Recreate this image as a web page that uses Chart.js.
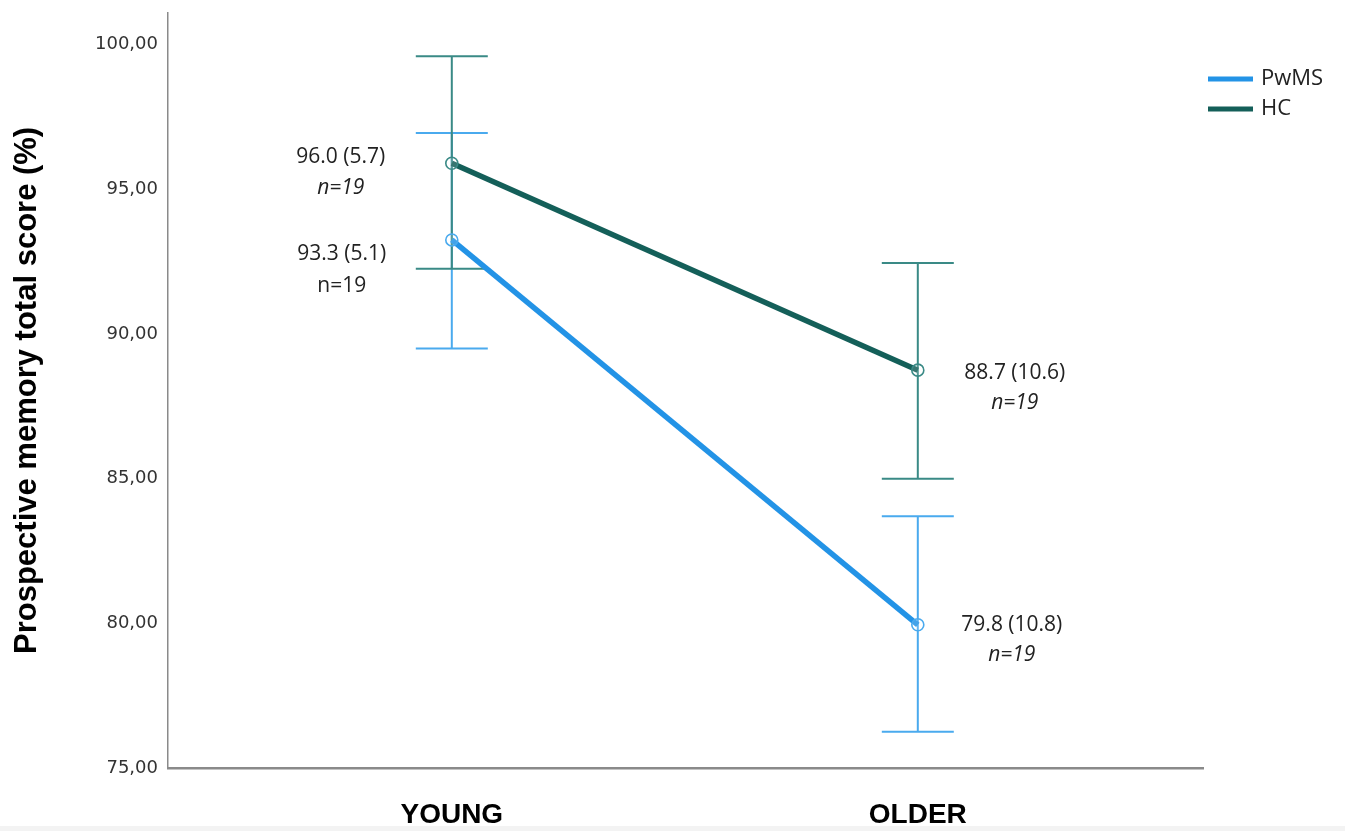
<!DOCTYPE html>
<html><head><meta charset="utf-8">
<script src="https://cdn.jsdelivr.net/npm/chart.js@4"></script>
<style>html,body{margin:0;padding:0;background:#fff;overflow:hidden}#wrap{position:relative;width:1345px;height:831px}#strip{position:absolute;left:0;top:826px;width:1345px;height:5px;background:#f3f3f3}</style>
</head><body><div id="wrap"><canvas id="c" width="1345" height="831"></canvas><div id="strip"></div></div>
<script>
const categories = ['YOUNG', 'OLDER'];
const seriesNames = ['PwMS', 'HC'];
const pwmsMean = [93.25, 79.95];
const pwmsLow = [89.5, 76.25];
const pwmsHigh = [96.95, 83.7];
const hcMean = [95.9, 88.75];
const hcLow = [92.25, 85.0];
const hcHigh = [99.6, 92.45];
const pwmsText = ['93.3 (5.1)', '79.8 (10.8)'];
const hcText = ['96.0 (5.7)', '88.7 (10.6)'];
const nText = 'n=19';
const pwmsItalicN = [false, true];
const hcItalicN = [true, true];
const yTicks = [75, 80, 85, 90, 95, 100];

const colors = {
  pwmsLine: '#2393e6', pwmsBar: '#4aaaee',
  hcLine: '#145f59', hcBar: '#3a8a86'
};

const series = [
  { name: seriesNames[0], mean: pwmsMean, low: pwmsLow, high: pwmsHigh, text: pwmsText, italic: pwmsItalicN, line: colors.pwmsLine, bar: colors.pwmsBar },
  { name: seriesNames[1], mean: hcMean, low: hcLow, high: hcHigh, text: hcText, italic: hcItalicN, line: colors.hcLine, bar: colors.hcBar }
];

// annotation offsets relative to each point
const labelPlacement = {
  PwMS: [{dx: -110, dy: 14, ndy: 46}, {dx: 94, dy: 0, ndy: 30}],
  HC: [{dx: -111, dy: -6, ndy: 25}, {dx: 97, dy: 3, ndy: 33}]
};

const annFont = '"Open Sans", "Liberation Sans", sans-serif';

const errorBarPlugin = {
  id: 'errbars',
  beforeDatasetsDraw(chart) {
    const ctx = chart.ctx, xs = chart.scales.x, ys = chart.scales.y;
    ctx.save();
    series.forEach(s => {
      s.mean.forEach((m, i) => {
        const x = xs.getPixelForValue(i);
        const yl = ys.getPixelForValue(s.low[i]);
        const yh = ys.getPixelForValue(s.high[i]);
        ctx.strokeStyle = s.bar;
        ctx.lineWidth = 2;
        ctx.beginPath();
        ctx.moveTo(x, yl); ctx.lineTo(x, yh);
        ctx.moveTo(x - 36, yl); ctx.lineTo(x + 36, yl);
        ctx.moveTo(x - 36, yh); ctx.lineTo(x + 36, yh);
        ctx.stroke();
      });
    });
    ctx.restore();
  },
  afterDatasetsDraw(chart) {
    const ctx = chart.ctx, xs = chart.scales.x, ys = chart.scales.y;
    ctx.save();
    ctx.fillStyle = '#222';
    ctx.textAlign = 'center';
    ctx.textBaseline = 'middle';
    series.forEach(s => {
      s.mean.forEach((m, i) => {
        const x = xs.getPixelForValue(i);
        const y = ys.getPixelForValue(m);
        const p = labelPlacement[s.name][i];
        ctx.font = '21px ' + annFont;
        ctx.fillText(s.text[i], x + p.dx, y + p.dy);
        ctx.font = (s.italic[i] ? 'italic ' : '') + '21px ' + annFont;
        ctx.fillText(nText, x + p.dx, y + p.ndy);
      });
    });
    // legend
    ctx.textAlign = 'left';
    ctx.font = '22px ' + annFont;
    series.forEach((s, k) => {
      const ly = 79 + k * 30;
      ctx.strokeStyle = s.line;
      ctx.lineWidth = 5;
      ctx.beginPath(); ctx.moveTo(1208, ly); ctx.lineTo(1253, ly); ctx.stroke();
      ctx.fillStyle = '#222';
      ctx.fillText(s.name, 1261, ly);
    });
    ctx.restore();
  }
};

new Chart(document.getElementById('c'), {
  type: 'line',
  data: {
    datasets: series.map(s => ({
      label: s.name,
      data: s.mean.map((v, i) => ({x: i, y: v})),
      borderColor: s.line,
      borderWidth: 5.5,
      pointRadius: 6,
      pointBorderWidth: 1.6,
      pointBorderColor: s.bar,
      pointBackgroundColor: 'rgba(255,255,255,0.15)',
      tension: 0
    }))
  },
  options: {
    responsive: false,
    animation: false,
    devicePixelRatio: 1,
    layout: { padding: { top: 2, right: 142, left: 0, bottom: 0 } },
    plugins: { legend: { display: false }, tooltip: { enabled: false } },
    scales: {
      x: {
        type: 'linear', min: -0.609, max: 1.612,
        afterBuildTicks: a => { a.ticks = categories.map((c, i) => ({value: i})); },
        afterFit: a => { a.height = 63; },
        ticks: { callback: v => categories[v], color: '#000', font: { family: '"Liberation Sans", sans-serif', weight: 'bold', size: 28 }, padding: 22, maxRotation: 0 },
        grid: { display: false },
        border: { color: '#8a8a8a', width: 2.5 }
      },
      y: {
        min: 75, max: 101.1,
        afterBuildTicks: a => { a.ticks = yTicks.map(v => ({value: v})); },
        afterFit: a => { a.width = 168; },
        ticks: { callback: v => v.toFixed(2).replace('.', ','), color: '#333', font: { family: '"DejaVu Sans", sans-serif', size: 18 }, padding: 2 },
        grid: { display: false },
        border: { color: '#8a8a8a', width: 1.5 },
        title: { display: true, text: 'Prospective memory total score (%)', color: '#000', font: { family: '"Liberation Sans", sans-serif', weight: 'bold', size: 31 }, padding: { top: 9, bottom: 4 } }
      }
    }
  },
  plugins: [errorBarPlugin]
});
</script></body></html>
